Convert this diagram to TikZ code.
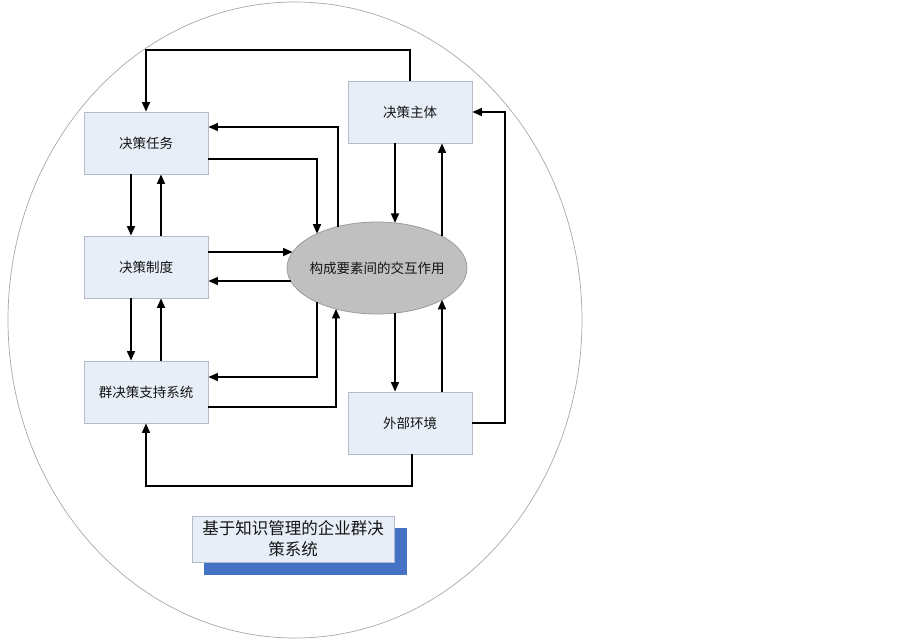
\documentclass[tikz,border=0pt]{standalone}
\usepackage{fontspec}
\newfontfamily\cjk{Noto Sans CJK SC}
\usetikzlibrary{arrows.meta,shapes.geometric,calc}
\definecolor{boxfill}{HTML}{E8EEF8}
\definecolor{boxline}{HTML}{B4BCC8}
\definecolor{ellfill}{HTML}{C0C0C0}
\definecolor{ellline}{HTML}{9C9C9C}
\definecolor{outerline}{HTML}{A8A8A8}
\definecolor{shadowblue}{HTML}{4472C4}
\definecolor{txt}{HTML}{141414}
\begin{document}
\begin{tikzpicture}[x=1pt,y=-1pt,
  stagebox/.style={draw=boxline, fill=boxfill, line width=0.8pt, minimum width=124pt,
    minimum height=62pt, inner sep=0pt, font=\cjk\fontsize{13.5}{15}\selectfont, text=txt},
  conn/.style={line width=1.5pt, -{Triangle[length=9.5pt,width=8pt]}},
  plainline/.style={line width=1.5pt}]
\useasboundingbox (0,0) rectangle (903,641);
% outer ellipse
\node[ellipse, draw=outerline, line width=0.7pt, minimum width=574pt, minimum height=636pt, inner sep=0pt] (outer) at (295,320) {};
% boxes
\node[stagebox] (T) at (146,143) {决策任务};
\node[stagebox] (Z) at (146,267) {决策制度};
\node[stagebox] (Q) at (146,392) {群决策支持系统};
\node[stagebox] (S) at (410,112) {决策主体};
\node[stagebox] (W) at (410,423) {外部环境};
% central ellipse
\node[ellipse, draw=ellline, fill=ellfill, line width=0.8pt, minimum width=180pt, minimum height=92pt, inner sep=0pt] (E) at (377,268) {};
\node[font=\cjk\fontsize{13.5}{15}\selectfont, text=txt, inner sep=0pt] (Et) at (E.center) {构成要素间的交互作用};
% border points on the ellipse
\coordinate (e338t) at (338,226.5);
\coordinate (e317t) at (317,233.7);
\coordinate (e317b) at (317,302.3);
\coordinate (e336b) at (336,308.9);
\coordinate (e395t) at (395,222.9);
\coordinate (e442t) at (442,236.2);
\coordinate (e395b) at (395,313.1);
\coordinate (e442b) at (442,299.8);
\coordinate (e252) at (292.6,252);
\coordinate (e281) at (290.7,281);
% side points on boxes
\coordinate (T1) at ([yshift=16pt]T.east);
\coordinate (T2) at ([yshift=-16pt]T.east);
\coordinate (Q1) at ([yshift=15pt]Q.east);
\coordinate (Q2) at ([yshift=-15pt]Q.east);
\coordinate (W1) at ([xshift=2pt]W.south);
% routing levels
\coordinate (topY) at (0,50);
\coordinate (botY) at (0,486);
\coordinate (rightX) at (505,0);
% connectors
\draw[conn] (S.north) -- (S.north |- topY) -- (T.north |- topY) -- (T.north);
\draw[conn] (e338t) -- (e338t |- T1) -- (T1);
\draw[conn] (T2) -- (e317t |- T2) -- (e317t);
\draw[conn] ([xshift=-15pt]T.south) -- ([xshift=-15pt]Z.north);
\draw[conn] ([xshift=15pt]Z.north) -- ([xshift=15pt]T.south);
\draw[conn] (Z.east |- e252) -- (e252);
\draw[conn] (e281) -- (Z.east |- e281);
\draw[conn] ([xshift=-15pt]Z.south) -- ([xshift=-15pt]Q.north);
\draw[conn] ([xshift=15pt]Q.north) -- ([xshift=15pt]Z.south);
\draw[conn] (e317b) -- (e317b |- Q1) -- (Q1);
\draw[conn] (Q2) -- (e336b |- Q2) -- (e336b);
\draw[conn] (S.south -| e395t) -- (e395t);
\draw[conn] (e442t) -- (S.south -| e442t);
\draw[conn] (e395b) -- (W.north -| e395b);
\draw[conn] (W.north -| e442b) -- (e442b);
\draw[conn] (W.east) -- (W.east -| rightX) -- (S.east -| rightX) -- (S.east);
\draw[conn] (W1) -- (W1 |- botY) -- (Q.south |- botY) -- (Q.south);
% title box with shadow
\node[fill=shadowblue, minimum width=203pt, minimum height=47pt, inner sep=0pt] (shadow) at (305.5,551.5) {};
\node[draw=boxline, fill=boxfill, line width=0.8pt, minimum width=202pt, minimum height=46pt, inner sep=0pt,
  align=center, font=\cjk\fontsize{16.5}{21}\selectfont, text=txt] (title) at (293,539) {基于知识管理的企业群决\\策系统};
\end{tikzpicture}
\end{document}
